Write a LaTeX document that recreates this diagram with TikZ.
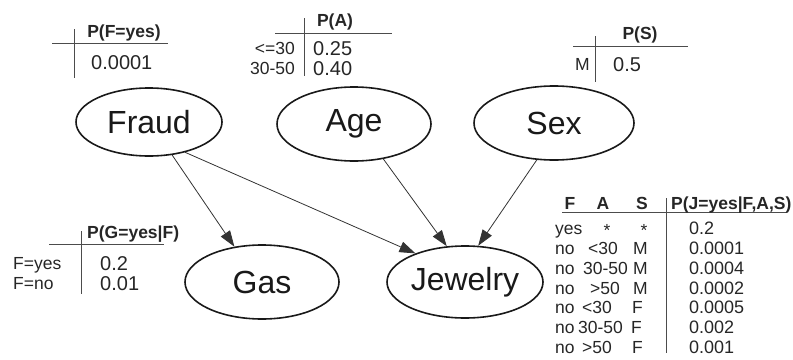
\documentclass[tikz,border=0pt]{standalone}
\usepackage{fontspec}
\setmainfont{Liberation Sans}
\usetikzlibrary{shapes.geometric,arrows.meta}

\begin{document}
\begin{tikzpicture}[x=1pt, y=-1pt,
    var/.style={ellipse, draw=black!90, line width=1.6pt, inner sep=0pt, text=black!90, font=\fontsize{32}{36}\selectfont},
    hdr/.style={inner sep=0pt, text height=12.5pt, text depth=0pt, text=black!85, font=\fontsize{17.5}{20}\selectfont\bfseries},
    lbl/.style={inner sep=0pt, text height=12.5pt, text depth=0pt, text=black!85, font=\fontsize{17.5}{20}\selectfont},
    val/.style={inner sep=0pt, text height=14.3pt, text depth=0pt, text=black!85, font=\fontsize{20}{24}\selectfont},
    jval/.style={inner sep=0pt, text height=13pt, text depth=0pt, text=black!85, font=\fontsize{18}{21}\selectfont},
    rule/.style={draw=black!70, line width=0.9pt},
    edge/.style={draw=black!80, line width=0.8pt, -{Triangle[length=16pt,width=11pt]}}]
    \useasboundingbox (0,0) rectangle (793,359);

    % Variables
    \node[var, minimum width=146, minimum height=68] (fraud) at (149,122) {Fraud};
    \node[var, minimum width=154, minimum height=74] (age) at (354,124) {Age};
    \node[var, minimum width=160, minimum height=74] (sex) at (554,123) {Sex};
    \node[var, minimum width=154, minimum height=74] (gas) at (262,282) {Gas};
    \node[var, minimum width=156, minimum height=72] (jewelry) at (465,282) {Jewelry};

    % Dependencies
    \draw[edge] (fraud.-55) -- (gas.128);
    \draw[edge] (fraud.-40) -- (jewelry.150);
    \draw[edge] (age.-50) -- (jewelry.117);
    \draw[edge] (sex.-115) -- (jewelry.70);

    % P(F)
    \draw[rule] (52,43) -- (168,43);
    \draw[rule] (74,29) -- (74,78);
    \node[hdr] (fhead) at (124,31) {P(F=yes)};
    \node[val, anchor=west] (fval) at (91,62) {0.0001};

    % P(A)
    \draw[rule] (275,33) -- (392,33);
    \draw[rule] (304,18) -- (304,76);
    \node[hdr] (ahead) at (335,20) {P(A)};
    \node[lbl, anchor=east] (alow) at (295,48) {<=30};
    \node[val, anchor=west] (alowv) at (313,48) {0.25};
    \node[lbl, anchor=east] (amid) at (295,68) {30-50};
    \node[val, anchor=west] (amidv) at (313,68) {0.40};

    % P(S)
    \draw[rule] (573,46) -- (688,46);
    \draw[rule] (595,36) -- (595,82);
    \node[hdr] (shead) at (640,33) {P(S)};
    \node[lbl, anchor=east] (sm) at (590,64) {M};
    \node[val, anchor=west] (smv) at (613,64) {0.5};

    % P(G|F)
    \draw[rule] (49,244) -- (164,244);
    \draw[rule] (81,231) -- (81,294);
    \node[hdr, anchor=west] (ghead) at (87,232) {P(G=yes|F)};
    \node[lbl, anchor=west] (gyes) at (13,263) {F=yes};
    \node[val, anchor=west] (gyesv) at (100,263) {0.2};
    \node[lbl, anchor=west] (gno) at (13,283) {F=no};
    \node[val, anchor=west] (gnov) at (100,283) {0.01};

    % P(J|F,A,S)
    \draw[rule] (562,212) -- (787,212);
    \draw[rule] (666,198) -- (666,353);
    \node[hdr] (jhf) at (570,203) {F};
    \node[hdr] (jha) at (603,203) {A};
    \node[hdr] (jhs) at (642,203) {S};
    \node[hdr, anchor=west] (jhp) at (671,203) {P(J=yes|F,A,S)};
    \node[lbl, anchor=west] (jf1) at (555,228) {yes};
    \node[lbl] (ja1) at (607,230) {*};
    \node[lbl] (js1) at (644,230) {*};
    \foreach \y/\f/\ax/\a/\sx/\s [count=\i from 2] in
        {248/no/588/<30/633/M, 268/no/583/30-50/633/M, 288/no/590/>50/633/M,
         307/no/582/<30/632/F, 327/no/578/30-50/631/F, 347/no/582/>50/632/F} {
        \node[lbl, anchor=west] (jf\i) at (555,\y) {\f};
        \node[lbl, anchor=west] (ja\i) at (\ax,\y) {\a};
        \node[lbl, anchor=west] (js\i) at (\sx,\y) {\s};
    }
    \foreach \y/\p [count=\i] in {228/0.2, 248/0.0001, 268/0.0004, 288/0.0002,
        307/0.0005, 327/0.002, 347/0.001}
        \node[jval, anchor=west] (jp\i) at (689,\y) {\p};
\end{tikzpicture}
\end{document}
